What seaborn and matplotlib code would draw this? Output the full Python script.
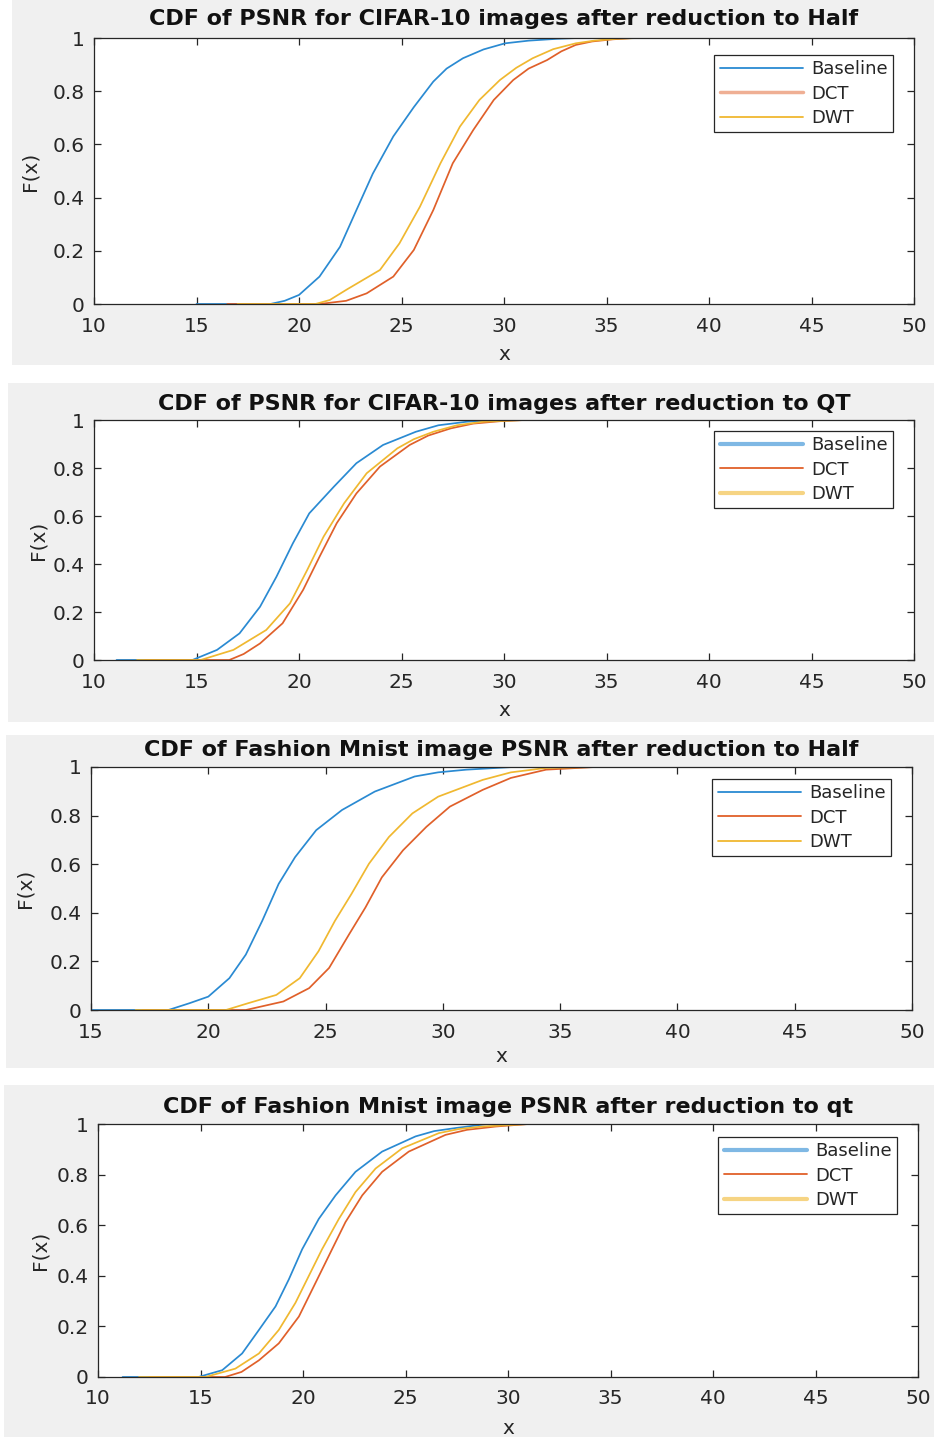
"""
CDF of PSNR after image reduction: four stacked MATLAB-style panels
(CIFAR-10 and Fashion MNIST, reduction to Half / QT).
"""

import matplotlib.pyplot as plt
import pandas as pd
import seaborn as sns
from matplotlib.lines import Line2D
from matplotlib.patches import Rectangle

# ── Data ─────────────────────────────────────────────────────────────────────
METHODS = ["Baseline", "DCT", "DWT"]

# Panel 1: CIFAR-10, reduction to Half
C10_HALF_BASE_X = [15.0, 18.6, 19.3, 20.0, 21.0, 22.0, 22.8, 23.6, 24.6, 25.6, 26.55, 27.2, 28.0, 29.0, 30.05, 31.2, 32.6, 33.6, 35.6]
C10_HALF_BASE_F = [0, 0, 0.012, 0.034, 0.103, 0.215, 0.353, 0.49, 0.63, 0.74, 0.836, 0.885, 0.924, 0.957, 0.98, 0.99, 0.997, 1, 1]
C10_HALF_DCT_X = [16.5, 21.0, 22.3, 23.3, 24.6, 25.6, 26.55, 27.5, 28.5, 29.5, 30.45, 31.2, 32.1, 32.8, 33.5, 34.3, 35.3, 36.3]
C10_HALF_DCT_F = [0, 0, 0.012, 0.04, 0.103, 0.203, 0.353, 0.529, 0.654, 0.767, 0.842, 0.885, 0.917, 0.95, 0.974, 0.987, 0.995, 1]
C10_HALF_DWT_X = [17.0, 20.8, 21.5, 22.3, 23.95, 24.9, 25.9, 26.9, 27.85, 28.8, 29.8, 30.6, 31.4, 32.4, 33.5, 34.4, 35.5, 36.5, 48.7]
C10_HALF_DWT_F = [0, 0, 0.015, 0.053, 0.128, 0.228, 0.366, 0.529, 0.667, 0.767, 0.842, 0.888, 0.924, 0.958, 0.98, 0.99, 0.997, 1, 1]

# Panel 2: CIFAR-10, reduction to QT
C10_QT_BASE_X = [11.1, 14.8, 16.0, 17.1, 18.1, 18.9, 19.7, 20.5, 21.7, 22.8, 24.1, 25.7, 26.8, 28.2, 30.0, 30.4]
C10_QT_BASE_F = [0, 0, 0.042, 0.111, 0.222, 0.347, 0.486, 0.611, 0.722, 0.82, 0.896, 0.951, 0.978, 0.993, 1, 1]
C10_QT_DCT_X = [12.5, 16.6, 17.3, 18.1, 19.2, 20.2, 21.0, 21.84, 22.8, 23.95, 25.4, 26.3, 27.4, 28.5, 29.8, 31.0, 45.3]
C10_QT_DCT_F = [0, 0, 0.025, 0.069, 0.153, 0.292, 0.43, 0.57, 0.694, 0.806, 0.896, 0.935, 0.965, 0.985, 0.995, 1, 1]
C10_QT_DWT_X = [12.1, 15.2, 16.8, 18.4, 19.56, 20.4, 21.2, 22.2, 23.3, 24.8, 25.6, 26.55, 27.7, 29.0, 31.0, 45.1]
C10_QT_DWT_F = [0, 0, 0.042, 0.125, 0.236, 0.375, 0.514, 0.653, 0.778, 0.882, 0.92, 0.951, 0.978, 0.993, 1, 1]

# Panel 3: Fashion MNIST, reduction to Half
FM_HALF_BASE_X = [15.0, 18.3, 19.2, 20.0, 20.9, 21.6, 22.3, 23.0, 23.7, 24.6, 25.7, 27.1, 28.8, 29.8, 31.0, 33.0, 35.5]
FM_HALF_BASE_F = [0, 0, 0.028, 0.055, 0.131, 0.228, 0.367, 0.519, 0.629, 0.74, 0.823, 0.899, 0.961, 0.978, 0.989, 1, 1]
FM_HALF_DCT_X = [17.2, 21.6, 23.2, 24.3, 25.15, 26.0, 26.7, 27.4, 28.3, 29.3, 30.3, 31.7, 32.9, 34.4, 36.5, 49.5]
FM_HALF_DCT_F = [0, 0, 0.035, 0.09, 0.173, 0.311, 0.422, 0.546, 0.657, 0.754, 0.837, 0.906, 0.955, 0.989, 1, 1]
FM_HALF_DWT_X = [16.9, 20.75, 21.7, 22.9, 23.9, 24.7, 25.4, 26.1, 26.85, 27.7, 28.7, 29.8, 31.7, 32.9, 34.4, 36.5, 49.3]
FM_HALF_DWT_F = [0, 0, 0.028, 0.062, 0.131, 0.242, 0.367, 0.477, 0.602, 0.712, 0.809, 0.878, 0.947, 0.978, 0.996, 1, 1]

# Panel 4: Fashion MNIST, reduction to qt
FM_QT_BASE_X = [11.2, 14.9, 16.06, 17.03, 17.85, 18.66, 19.31, 19.96, 20.77, 21.59, 22.56, 23.86, 25.49, 26.4, 27.44, 29.0, 29.8]
FM_QT_BASE_F = [0, 0, 0.027, 0.093, 0.186, 0.279, 0.386, 0.505, 0.625, 0.718, 0.811, 0.891, 0.951, 0.972, 0.984, 1, 1]
FM_QT_DCT_X = [12.5, 16.2, 17.0, 17.85, 18.82, 19.8, 20.61, 21.26, 22.07, 22.89, 23.86, 25.16, 26.95, 28.0, 29.4, 31.0, 47.3]
FM_QT_DCT_F = [0, 0, 0.02, 0.066, 0.133, 0.239, 0.372, 0.479, 0.612, 0.718, 0.811, 0.891, 0.957, 0.977, 0.99, 1, 1]
FM_QT_DWT_X = [12.0, 15.24, 16.7, 17.85, 18.82, 19.63, 20.28, 20.93, 21.75, 22.56, 23.54, 24.84, 26.63, 27.6, 28.74, 31.0, 47.0]
FM_QT_DWT_F = [0, 0, 0.033, 0.093, 0.186, 0.293, 0.399, 0.505, 0.625, 0.731, 0.824, 0.904, 0.964, 0.98, 0.99, 1, 1]

TITLES = [
    "CDF of PSNR for CIFAR-10 images after reduction to Half",
    "CDF of PSNR for CIFAR-10 images after reduction to QT",
    "CDF of Fashion Mnist image PSNR after reduction to Half",
    "CDF of Fashion Mnist image PSNR after reduction to qt",
]
XLIMS = [(10, 50), (10, 50), (15, 50), (10, 50)]

SERIES = [
    [(C10_HALF_BASE_X, C10_HALF_BASE_F), (C10_HALF_DCT_X, C10_HALF_DCT_F), (C10_HALF_DWT_X, C10_HALF_DWT_F)],
    [(C10_QT_BASE_X, C10_QT_BASE_F), (C10_QT_DCT_X, C10_QT_DCT_F), (C10_QT_DWT_X, C10_QT_DWT_F)],
    [(FM_HALF_BASE_X, FM_HALF_BASE_F), (FM_HALF_DCT_X, FM_HALF_DCT_F), (FM_HALF_DWT_X, FM_HALF_DWT_F)],
    [(FM_QT_BASE_X, FM_QT_BASE_F), (FM_QT_DCT_X, FM_QT_DCT_F), (FM_QT_DWT_X, FM_QT_DWT_F)],
]

# ── Style ─────────────────────────────────────────────────────────────────────
sns.set_theme(style="ticks")
plt.rcParams["font.family"] = ["DejaVu Sans"]

COLORS = {"Baseline": "#2a8ad2", "DCT": "#e0602a", "DWT": "#f0b830"}
INK = "#262626"
BG = "#f0f0f0"
W, H = 934, 1437

# pixel layout (left, top, right, bottom)
GRAY_BOXES = [(12, 0, 934, 365), (8, 383, 934, 722), (6, 735, 934, 1068), (4, 1085, 934, 1437)]
AX_BOXES = [(94, 38, 914, 304), (94, 420, 914, 660), (91, 767, 912, 1010), (98, 1124, 918, 1377)]
LEGEND_ANCHORS = [(893, 55), (893, 431), (891, 779), (897, 1137)]
TITLE_PADS = [9.5, 7.5, 8.0, 8.0]
YLABEL_X = [30, 38, 25, 40]
XLABEL_Y = [355, 711, 1057, 1428]
# legend line styles: panels 2 and 4 draw thicker, lighter Baseline/DWT swatches
LEGEND_STYLE = [
    {"Baseline": (1.3, 1.0), "DCT": (2.5, 0.5), "DWT": (1.3, 1.0)},
    {"Baseline": (3.0, 0.6), "DCT": (1.3, 1.0), "DWT": (3.0, 0.6)},
    {"Baseline": (1.3, 1.0), "DCT": (1.3, 1.0), "DWT": (1.3, 1.0)},
    {"Baseline": (3.0, 0.6), "DCT": (1.3, 1.0), "DWT": (3.0, 0.6)},
]


def px_box(l, t, r, b):
    return [l / W, 1 - b / H, (r - l) / W, (b - t) / H]


fig = plt.figure(figsize=(W / 100, H / 100), dpi=100)
fig.patch.set_facecolor("white")

for gb in GRAY_BOXES:
    l, t, r, b = gb
    fig.patches.append(Rectangle((l / W, 1 - b / H), (r - l) / W, (b - t) / H,
                                 transform=fig.transFigure, facecolor=BG,
                                 edgecolor="none", zorder=-10))

for i in range(4):
    l, t, r, b = AX_BOXES[i]
    ax = fig.add_axes(px_box(l, t, r, b))
    ax.set_facecolor("white")

    frames = []
    for name, (xs, fs) in zip(METHODS, SERIES[i]):
        frames.append(pd.DataFrame({"x": xs, "F": fs, "method": name}))
    df = pd.concat(frames, ignore_index=True)

    sns.lineplot(data=df, x="x", y="F", hue="method", hue_order=METHODS,
                 palette=COLORS, estimator=None, linewidth=1.25,
                 legend=False, ax=ax)

    ax.set_xlim(*XLIMS[i])
    ax.set_ylim(0, 1)
    ax.set_xticks(range(XLIMS[i][0], 51, 5))
    ax.set_yticks([0, 0.2, 0.4, 0.6, 0.8, 1])
    ax.set_yticklabels(["0", "0.2", "0.4", "0.6", "0.8", "1"])

    for sp in ax.spines.values():
        sp.set_visible(True)
        sp.set_color(INK)
        sp.set_linewidth(0.9)
    ax.tick_params(direction="in", length=5, width=0.9, top=True, right=True,
                   colors=INK, labelsize=14.5, labelcolor=INK)
    ax.tick_params(axis="x", pad=9)
    ax.tick_params(axis="y", pad=7)

    ax.set_title(TITLES[i], fontsize=16, fontweight="bold", color="#111111",
                 pad=TITLE_PADS[i])

    ax.set_ylabel("F(x)", fontsize=14.5, color=INK, va="center")
    ax.yaxis.set_label_coords((YLABEL_X[i] - l) / (r - l), 0.5)
    ax.set_xlabel("x", fontsize=14.5, color=INK, va="center")
    ax.xaxis.set_label_coords(0.5, -(XLABEL_Y[i] - b) / (b - t))

    handles = []
    for name in METHODS:
        lw, alpha = LEGEND_STYLE[i][name]
        handles.append(Line2D([], [], color=COLORS[name], linewidth=lw, alpha=alpha))
    lx, ly = LEGEND_ANCHORS[i]
    leg = ax.legend(handles, METHODS, loc="upper right",
                    bbox_to_anchor=((lx - l) / (r - l), (b - ly) / (b - t)),
                    borderaxespad=0, fontsize=13, handlelength=4.6,
                    handletextpad=0.45, labelspacing=0.35, borderpad=0.3,
                    frameon=True, fancybox=False, framealpha=1)
    leg.get_frame().set_edgecolor(INK)
    leg.get_frame().set_linewidth(0.9)
    for txt in leg.get_texts():
        txt.set_color(INK)

fig.savefig("out.png", dpi=100)
